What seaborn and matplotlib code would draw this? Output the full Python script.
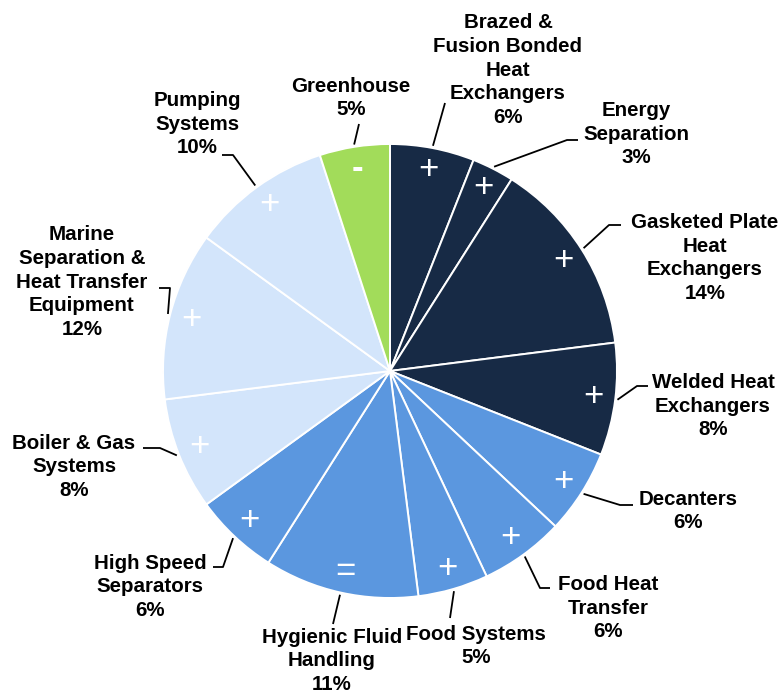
import numpy as np
import matplotlib
matplotlib.use("Agg")
import matplotlib.pyplot as plt
import seaborn as sns

# Segment data, clockwise from 12 o'clock
segments = ["Brazed &\nFusion Bonded\nHeat\nExchangers", "Energy\nSeparation",
            "Gasketed Plate\nHeat\nExchangers", "Welded Heat\nExchangers", "Decanters",
            "Food Heat\nTransfer", "Food Systems", "Hygienic Fluid\nHandling",
            "High Speed\nSeparators", "Boiler & Gas\nSystems",
            "Marine\nSeparation &\nHeat Transfer\nEquipment", "Pumping\nSystems", "Greenhouse"]
shares = [6, 3, 14, 8, 6, 6, 5, 11, 6, 8, 12, 10, 5]
trend = ["+", "+", "+", "+", "+", "+", "+", "=", "+", "+", "+", "+", "-"]
group = ["dark", "dark", "dark", "dark", "mid", "mid", "mid", "mid", "mid",
         "light", "light", "light", "green"]

palette = {"dark": "#172a45", "mid": "#5b97df", "light": "#d3e5fb", "green": "#a2dc5a"}

# label block centres and leader paths (pixel layout)
label_pos = [(508, 70), (636, 134), (705, 258), (713, 406), (688, 511), (608, 608),
             (476, 646), (332, 661), (150, 587), (74, 467), (82, 282), (197, 124), (351, 98)]
leader_path = [[(445, 103)], [(567, 140), (578, 140)], [(609, 225), (621, 225)],
               [(637, 386), (648, 386)], [(620, 505), (633, 505)], [(540, 588), (550, 588)],
               [(450, 618)], [(333, 624)], [(223, 567), (213, 567)], [(160, 448), (143, 448)],
               [(170, 288), (159, 288)], [(233, 155), (222, 155)], [(359, 124)]]

sns.set_theme(style="white")
plt.rcParams['font.family'] = ['Liberation Sans', 'DejaVu Sans']

W, H = 784, 697
cx, cy, R = 390, 371, 227

fig = plt.figure(figsize=(W / 100, H / 100), dpi=100)
ax = fig.add_axes([0, 0, 1, 1])

# y axis runs downward, so counterclock=True draws clockwise on screen
wedges, _ = ax.pie(shares, colors=[palette[g] for g in group], startangle=-90,
                   counterclock=True, center=(cx, cy), radius=R,
                   wedgeprops=dict(edgecolor="white", linewidth=1.4))
ax.set_xlim(0, W)
ax.set_ylim(H, 0)
ax.set_aspect("equal")
ax.axis("off")

for w, sym, lab, share, pos, path in zip(wedges, trend, segments, shares, label_pos, leader_path):
    mid = np.deg2rad((w.theta1 + w.theta2) / 2)
    # symbol inside the slice
    sx, sy = cx + 0.905 * R * np.cos(mid), cy + 0.905 * R * np.sin(mid)
    ax.text(sx, sy, sym, color="white", fontsize=25, ha="center", va="center",
            fontweight="bold" if sym == "-" else "normal")
    # leader line
    ex, ey = cx + 1.01 * R * np.cos(mid), cy + 1.01 * R * np.sin(mid)
    xs = [ex] + [p[0] for p in path]
    ys = [ey] + [p[1] for p in path]
    ax.plot(xs, ys, color="black", lw=1.3, solid_capstyle="butt")
    ax.text(pos[0], pos[1], f"{lab}\n{share}%", fontsize=14.8, fontweight="bold",
            color="black", ha="center", va="center", multialignment="center",
            linespacing=1.32)

fig.savefig("out.png", dpi=100)
